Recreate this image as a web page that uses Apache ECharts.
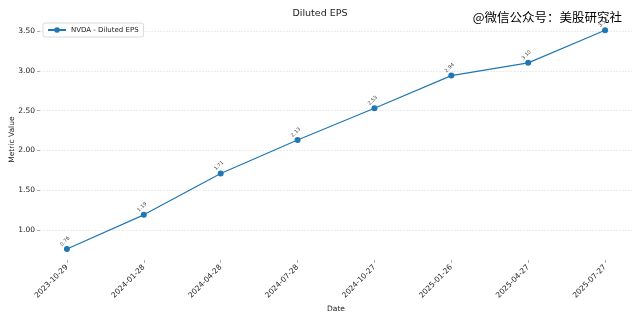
<!DOCTYPE html>
<html><head><meta charset="utf-8">
<script src="https://cdn.jsdelivr.net/npm/echarts@6/dist/echarts.min.js"></script>
<style>html,body{margin:0;padding:0;background:#fff}#c{width:640px;height:320px}</style>
</head><body><div id="c"></div>
<script>
const dates = ['2023-10-29','2024-01-28','2024-04-28','2024-07-28','2024-10-27','2025-01-26','2025-04-27','2025-07-27'];
const eps = [0.76, 1.19, 1.71, 2.13, 2.53, 2.94, 3.10, 3.51];
const yTicks = [1.0, 1.5, 2.0, 2.5, 3.0, 3.5];
const seriesName = 'NVDA - Diluted EPS';
const font = 'DejaVu Sans';
const idx = dates.map((d, i) => i);
const n = dates.length - 1;
const xm = n * 0.05;
const ymin = Math.min(...eps), ymax = Math.max(...eps);
const ym = (ymax - ymin) * 0.05;
const chart = echarts.init(document.getElementById('c'), null, {renderer: 'canvas'});
chart.setOption({
  animation: false,
  textStyle: {fontFamily: font},
  title: {text: 'Diluted EPS', left: 'center', top: 4, textStyle: {fontFamily: font, fontSize: 9.5, fontWeight: 'normal', color: '#222'}},
  graphic: [{type: 'text', right: 18, top: 11, style: {text: '@微信公众号：美股研究社', fontFamily: 'Noto Sans CJK SC', fontSize: 12.5, fill: '#000'}}],
  legend: {left: 43, top: 23, orient: 'vertical', padding: [3.5, 5, 3.5, 4], itemWidth: 18, itemHeight: 7, itemGap: 2,
    borderColor: '#d0d0d0', borderWidth: 0.8, borderRadius: 2, backgroundColor: '#fff',
    textStyle: {fontFamily: font, fontSize: 7, color: '#222'}, data: [seriesName]},
  grid: {left: 40, right: 8, top: 19.3, bottom: 60, outerBoundsMode: 'none', containLabel: false},
  xAxis: {type: 'value', min: -xm, max: n + xm, name: 'Date', nameLocation: 'middle', nameGap: 45, nameMoveOverlap: false,
    nameTextStyle: {fontFamily: font, fontSize: 7.5, color: '#222'},
    axisLine: {show: false, onZero: false}, splitLine: {show: false},
    axisTick: {show: true, customValues: idx, length: 3, lineStyle: {color: '#999', width: 0.8}},
    axisLabel: {customValues: idx, rotate: 45, fontSize: 7.5, color: '#222', margin: 6, formatter: v => dates[Math.round(v)]}},
  yAxis: {type: 'value', min: ymin - ym, max: ymax + ym, name: 'Metric Value', nameLocation: 'middle', nameGap: 24, nameMoveOverlap: false,
    nameTextStyle: {fontFamily: font, fontSize: 7.5, color: '#222'},
    axisLine: {show: false, onZero: false},
    axisTick: {show: true, customValues: yTicks, length: 3, lineStyle: {color: '#999', width: 0.8}},
    axisLabel: {customValues: yTicks, fontSize: 7.5, color: '#222', margin: 5, formatter: v => v.toFixed(2)},
    splitLine: {show: true, lineStyle: {color: '#e4e4e4', width: 0.7, type: [2, 1]}}},
  series: [{name: seriesName, type: 'line', data: idx.map(i => [i, eps[i]]), color: '#1f77b4',
    lineStyle: {width: 1.2}, symbol: 'circle', symbolSize: 6,
    label: {show: true, position: 'top', distance: 3, rotate: 45, fontSize: 5, color: '#444', fontFamily: font,
      formatter: p => p.value[1].toFixed(2)}}]
});
</script></body></html>
